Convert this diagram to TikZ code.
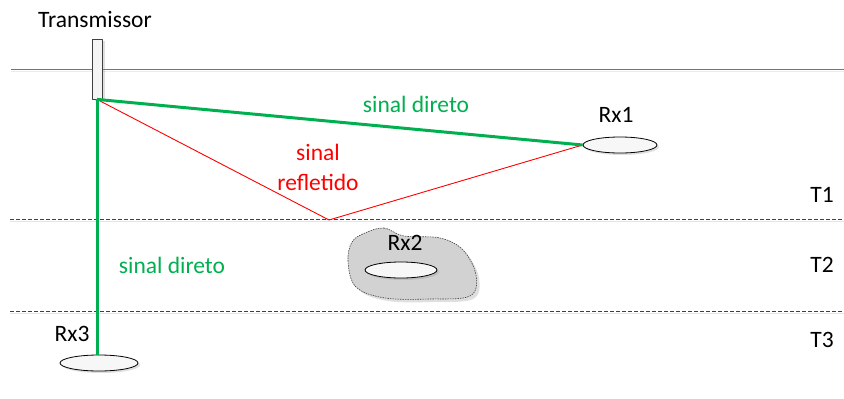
\documentclass[tikz,border=0pt]{standalone}
\usepackage{fontspec}
\setmainfont{Carlito}
\usetikzlibrary{shapes.geometric, shadows, positioning, calc}
\definecolor{sinalverde}{HTML}{00B050}
\definecolor{sinalverm}{HTML}{FF0000}
\definecolor{superficie}{HTML}{4A7EBB}
\definecolor{cinzalinha}{HTML}{404040}
\tikzset{
  rotulo/.style={font=\fontsize{23.5}{28}\selectfont, inner sep=0pt},
  receptor/.style={ellipse, draw=black, line width=0.8pt, fill=gray!6, inner sep=0pt,
    drop shadow={opacity=0.25, shadow xshift=2pt, shadow yshift=-2pt}},
  camada/.style={dashed, dash pattern=on 4pt off 2pt, line width=0.8pt, cinzalinha},
  direto/.style={line width=3pt, sinalverde},
  refletido/.style={line width=0.9pt, sinalverm},
}
\begin{document}
\begin{tikzpicture}[x=1pt, y=-1pt, line join=round]
      \useasboundingbox (0,0) rectangle (844,399);

      % Superficie
      \draw[gray!15, line width=1pt] (11,71.5) -- (844,71.5);
      \draw[superficie, line width=1pt] (11,69) -- (844,69);

      % Camadas
      \draw[gray!20, line width=0.8pt] (10,221.5) -- (844,221.5);
      \draw[gray!20, line width=0.8pt] (10,313.5) -- (844,313.5);
      \draw[camada] (10,219) -- (844,219);
      \draw[camada] (10,311) -- (844,311);
      \node[rotulo] (t1) at (822,195) {T1};
      \node[rotulo] (t2) at (822,265) {T2};
      \node[rotulo] (t3) at (822,340) {T3};

      % Transmissor
      \node[draw=cinzalinha, fill=gray!8, line width=0.8pt, minimum width=10pt, minimum height=60pt, inner sep=0pt,
        drop shadow={opacity=0.25, shadow xshift=3pt, shadow yshift=-2pt}] (tx) at (97,69) {};
      \node[rotulo] (txl) at (95,20) {Transmissor};

      % Receptores
      \node[receptor, minimum width=74pt, minimum height=16pt] (rx1) at (620,145) {};
      \node[rotulo] (rx1l) at (616,115) {Rx1};

      \draw[dashed, dash pattern=on 1.5pt off 1pt, line width=0.6pt, cinzalinha, fill=gray!35,
        drop shadow={opacity=0.25, shadow xshift=3pt, shadow yshift=-3pt}]
        plot[smooth cycle, tension=0.6] coordinates {(365,233) (384,228) (404,236) (440,238) (463,250)
          (476,275) (470,296) (430,299) (385,298) (356,287) (348,262) (352,242)};
      \node[receptor, minimum width=72pt, minimum height=16pt] (rx2) at (401,270) {};
      \node[rotulo] (rx2l) at (405,243) {Rx2};

      \node[receptor, minimum width=78pt, minimum height=16pt] (rx3) at (99,363) {};
      \node[rotulo] (rx3l) at (72,334) {Rx3};

      % Sinais
      \coordinate (refl) at (329,220);
      \draw[refletido] (tx.south) -- (refl) -- (rx1.west);
      \draw[direto] (tx.south) -- (rx1.west);
      \draw[direto] (tx.south) -- (tx.south |- rx3.north);

      \node[rotulo, sinalverde] (dir1) at (416,104) {sinal direto};
      \node[rotulo, sinalverde] (dir2) at (172,265) {sinal direto};
      \node[rotulo, sinalverm, align=center] (refll) at (318,167) {sinal\\[2pt]refletido};
    \end{tikzpicture}
\end{document}
